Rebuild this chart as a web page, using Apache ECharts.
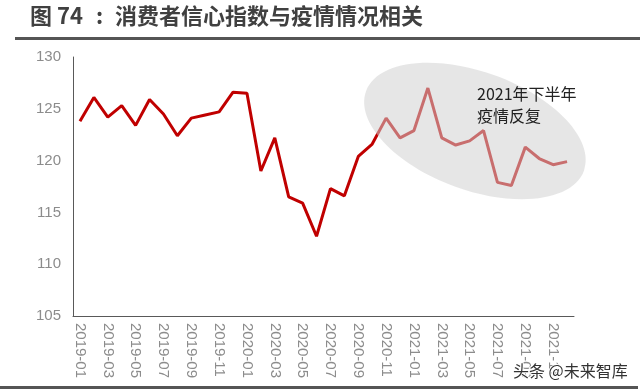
<!DOCTYPE html>
<html>
<head>
<meta charset="utf-8">
<script src="https://cdn.jsdelivr.net/npm/echarts@6/dist/echarts.min.js"></script>
<style>
  html, body { margin: 0; padding: 0; background: #fff; }
  #chart { width: 640px; height: 391px; }
</style>
</head>
<body>
<div id="chart"></div>
<script>
  var titleNo = '图 74';
  var titleText = '消费者信心指数与疫情情况相关';
  var noteText = '2021年下半年\n疫情反复';
  var markText = '头条 @未来智库';

  var months = [
    '2019-01', '2019-02', '2019-03', '2019-04', '2019-05', '2019-06',
    '2019-07', '2019-08', '2019-09', '2019-10', '2019-11', '2019-12',
    '2020-01', '2020-02', '2020-03', '2020-04', '2020-05', '2020-06',
    '2020-07', '2020-08', '2020-09', '2020-10', '2020-11', '2020-12',
    '2021-01', '2021-02', '2021-03', '2021-04', '2021-05', '2021-06',
    '2021-07', '2021-08', '2021-09', '2021-10', '2021-11', '2021-12'
  ];
  // 消费者信心指数
  var confidence = [
    123.8, 126.1, 124.2, 125.3, 123.4, 125.9,
    124.5, 122.4, 124.1, 124.4, 124.7, 126.6,
    126.5, 119.0, 122.2, 116.5, 115.9, 112.7,
    117.3, 116.6, 120.4, 121.6, 124.1, 122.2,
    122.9, 127.0, 122.2, 121.5, 121.9, 122.9,
    117.9, 117.6, 121.3, 120.2, 119.6, 119.9
  ];
  var yTicks = [105, 110, 115, 120, 125, 130];

  var axisFont = '"Liberation Sans Narrow", "Liberation Sans", sans-serif';
  var titleFont = 'bold 22px "Noto Sans CJK SC", sans-serif';

  var option = {
    animation: false,
    backgroundColor: '#fff',
    grid: { left: 73, right: 66, top: 57, bottom: 75 },
    xAxis: {
      type: 'category',
      data: months,
      boundaryGap: true,
      axisLine: { lineStyle: { color: '#595959', width: 1 } },
      axisTick: { interval: 1, length: 3, lineStyle: { color: '#595959' } },
      axisLabel: {
        interval: 1,
        rotate: -90,
        margin: 7,
        color: '#8c8c8c',
        fontSize: 15,
        fontFamily: axisFont
      },
      splitLine: { show: false }
    },
    yAxis: {
      type: 'value',
      min: yTicks[0],
      max: yTicks[yTicks.length - 1],
      interval: 5,
      axisLine: { show: true, lineStyle: { color: '#595959', width: 1 } },
      axisTick: { show: false },
      axisLabel: {
        margin: 12,
        color: '#8c8c8c',
        fontSize: 15,
        fontFamily: axisFont
      },
      splitLine: { show: false }
    },
    series: [{
      name: '消费者信心指数',
      type: 'line',
      data: confidence,
      symbol: 'none',
      lineStyle: { color: '#c00000', width: 3 },
      z: 2
    }],
    graphic: [
      {
        type: 'text', left: 30, top: 5, z: 10,
        style: { text: titleNo, fill: '#404040', font: titleFont }
      },
      {
        type: 'text', left: 96, top: 5, z: 10,
        style: { text: ':', fill: '#404040', font: titleFont }
      },
      {
        type: 'text', left: 115, top: 5, z: 10,
        style: { text: titleText, fill: '#404040', font: titleFont }
      },
      {
        type: 'rect', z: 10,
        shape: { x: 15, y: 37, width: 625, height: 3 },
        style: { fill: '#555' }
      },
      {
        type: 'rect', z: 10,
        shape: { x: 0, y: 386, width: 638, height: 3 },
        style: { fill: '#555' }
      },
      {
        type: 'ellipse', z: 100,
        x: 475, y: 131, rotation: -0.35,
        shape: { cx: 0, cy: 0, rx: 116, ry: 59 },
        style: { fill: 'rgba(208,208,208,0.53)' }
      },
      {
        type: 'text', left: 477, top: 83, z: 101,
        style: {
          text: noteText, fill: '#222',
          font: '16px "Noto Sans CJK SC", sans-serif',
          lineHeight: 22
        }
      },
      {
        type: 'text', left: 512, top: 362, z: 101,
        style: {
          text: markText, fill: '#333',
          font: '16px "Noto Sans CJK SC", sans-serif',
          stroke: '#fff', lineWidth: 2
        }
      }
    ]
  };

  echarts.init(document.getElementById('chart')).setOption(option);
</script>
</body>
</html>
